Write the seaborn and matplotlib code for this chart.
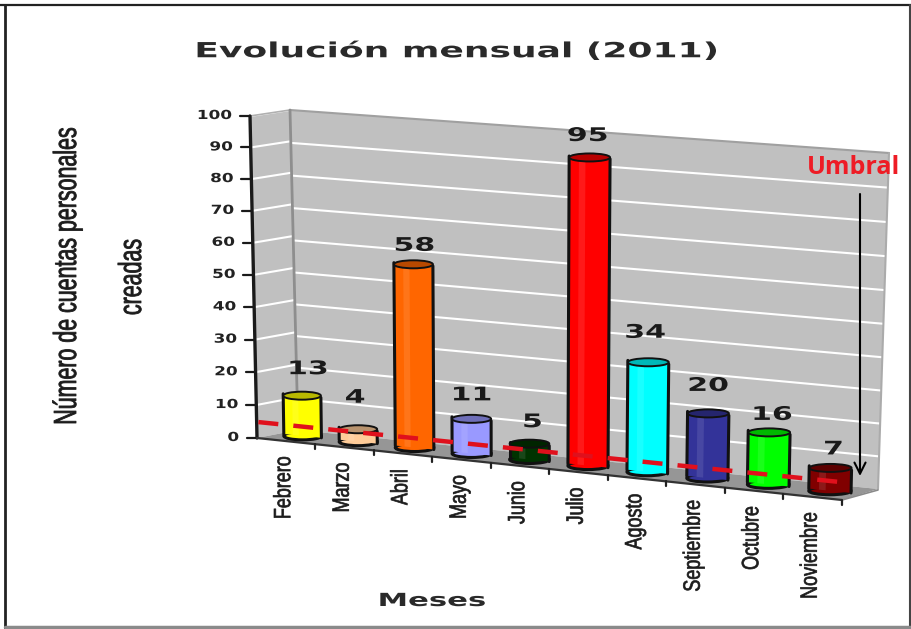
import numpy as np
import matplotlib
matplotlib.use("Agg")
import matplotlib.pyplot as plt
import seaborn as sns
from matplotlib.patches import Ellipse, Polygon, Rectangle
from matplotlib.patheffects import AbstractPathEffect
from matplotlib.transforms import Affine2D, Transform

# Chart data
months = ["Febrero", "Marzo", "Abril", "Mayo", "Junio", "Julio",
          "Agosto", "Septiembre", "Octubre", "Noviembre"]
accounts = [13, 4, 58, 11, 5, 95, 34, 20, 16, 7]
bar_colors = ["#FFFF00", "#FFCC99", "#FF6600", "#9999FF", "#003300",
              "#FF0000", "#00FFFF", "#333399", "#00FF00", "#800000"]
y_ticks = [0, 10, 20, 30, 40, 50, 60, 70, 80, 90, 100]
threshold = 3

# Scene geometry of the pseudo-3D box, in pixels from the top-left corner
BAR_PLANE = [(275, 433), (861, 494), (869, 160), (270, 119)]
BACK_WALL = [(298, 430), (878, 489), (889, 153), (290, 110)]
SIDE_WALL = [(257, 438), (298, 430), (290, 110), (250, 116)]
FLOOR = [(257, 438), (298, 430), (878, 489), (842, 500)]
# Nudges for the value labels, relative to the top of each bar
label_nudge = [(6, -27), (-3, -32), (1, -19), (0, -24), (3, -22),
               (-2, -22), (-3, -30), (0, -28), (3, -18), (3, -19)]


def homography(src, dst):
    rows, rhs = [], []
    for (x, y), (u, v) in zip(src, dst):
        rows.append([x, y, 1, 0, 0, 0, -u * x, -u * y])
        rows.append([0, 0, 0, x, y, 1, -v * x, -v * y])
        rhs += [u, v]
    return np.append(np.linalg.solve(np.array(rows, float), np.array(rhs, float)), 1).reshape(3, 3)


class Projective(Transform):
    """Perspective mapping from a data rectangle onto a quadrilateral."""
    input_dims = output_dims = 2
    is_affine = False

    def __init__(self, x0, x1, y0, y1, quad):
        super().__init__()
        self.h = homography([(x0, y0), (x1, y0), (x1, y1), (x0, y1)], quad)

    def transform_non_affine(self, values):
        values = np.atleast_2d(values)
        p = np.c_[values, np.ones(len(values))] @ self.h.T
        return p[:, :2] / p[:, 2:]


class Stretch(AbstractPathEffect):
    """Scales glyph outlines about a fractional anchor of the text box,
    optionally thickening them with an outline of the same colour."""

    def __init__(self, sx=1.0, sy=1.0, anchor=(0.5, 0.5), embolden=0.0):
        super().__init__()
        self.sx, self.sy, self.anchor, self.embolden = sx, sy, anchor, embolden

    def draw_path(self, renderer, gc, tpath, affine, rgbFace=None):
        box = tpath.get_extents(affine)
        cx = box.x0 + box.width * self.anchor[0]
        cy = box.y0 + box.height * self.anchor[1]
        extra = Affine2D().translate(-cx, -cy).scale(self.sx, self.sy).translate(cx, cy)
        gc0 = renderer.new_gc()
        gc0.copy_properties(gc)
        if self.embolden:
            gc0.set_foreground(rgbFace)
            gc0.set_linewidth(self.embolden)
        renderer.draw_path(gc0, tpath, affine + extra, rgbFace)
        gc0.restore()


sns.set_style("white")
fig = plt.figure(figsize=(9.12, 6.29), dpi=100, facecolor="white")
ax = fig.add_axes([0, 0, 1, 1])

data = {"mes": months, "cuentas": accounts}
sns.barplot(data=data, x="mes", y="cuentas", hue="mes", palette=bar_colors, saturation=1,
            width=0.68, linewidth=0, legend=False, ax=ax, zorder=3)
ax.set_xlim(0, 912)
ax.set_ylim(629, 0)
ax.autoscale(False)
ax.set_axis_off()

plane = Projective(-0.5, 9.5, 0, 100, BAR_PLANE)
back = Projective(0, 1, 0, 100, BACK_WALL)
side = Projective(0, 1, 0, 100, SIDE_WALL)
front = Projective(0, 10, 0, 1, [(257, 438), (842, 500), (842, 400), (257, 338)])
to_plane = plane + ax.transData

# Walls and floor
ax.add_patch(Polygon(SIDE_WALL, fc="#C0C0C0", ec="none", zorder=1))
ax.add_patch(Polygon(BACK_WALL, fc="#C0C0C0", ec="none", zorder=1))
ax.add_patch(Polygon(FLOOR, fc="#969696", ec="none", zorder=1.2))

for v in y_ticks[1:]:
    ax.plot([0, 1], [v, v], color="white", lw=1.5, zorder=1.1, transform=side + ax.transData)
    ax.plot([0, 1], [v, v], color="white" if v < 100 else "#A0A0A0", lw=1.5, zorder=1.1,
            transform=back + ax.transData)
ax.plot([0, 1], [100, 100], color="#B0B0B0", lw=1.2, zorder=1.1, transform=side + ax.transData)
ax.plot([1, 1], [0, 100], color="#8E8E8E", lw=2, zorder=1.3, transform=side + ax.transData)
ax.plot([1, 1], [0, 100], color="#ABABAB", lw=1.5, zorder=1.3, transform=back + ax.transData)

# Value axis
ax.plot([0, 0], [0, 100], color="#1A1A1A", lw=2.4, zorder=2, transform=side + ax.transData)
for v in y_ticks:
    x, y = side.transform([[0, v]])[0]
    ax.plot([x - 10, x], [y, y], color="#1A1A1A", lw=1.6, zorder=2)
    ax.text(x - 18, y - 0.5, str(v), ha="right", va="center", fontsize=9, fontweight="bold",
            family="DejaVu Sans", color="#222222",
            path_effects=[Stretch(sx=1.35, anchor=(1, 0.5))])

# Category axis
narrow = ["Liberation Sans Narrow", "Liberation Sans"]
ax.plot([0, 10], [0, 0], color="#333333", lw=1.6, zorder=2, transform=front + ax.transData)
ax.plot([842, 878], [500, 490], color="#8A8A8A", lw=1.2, zorder=2)
for i, name in enumerate(months):
    x, y = front.transform([[i + 1, 0]])[0]
    ax.plot([x, x], [y, y + 5], color="#222222", lw=1.6, zorder=2)
    xc, yc = front.transform([[i + 0.5, 0]])[0]
    ax.text(xc - 2, yc + 15, name, rotation=90, ha="center", va="top", fontsize=17,
            family=narrow, color="#1C1C1C",
            path_effects=[Stretch(sy=0.76, anchor=(0.5, 1), embolden=0.5)])

# Cylinders: seaborn rectangles pushed through the perspective, with round caps
for i, (bar, color) in enumerate(zip(ax.patches, bar_colors)):
    bar.set_transform(to_plane)
    bar.set_zorder(3)
    x0, w, h = bar.get_x(), bar.get_width(), bar.get_height()
    rgb = np.array(matplotlib.colors.to_rgb(color))
    (lx, ly), (rx, ry) = plane.transform([[x0, 0], [x0 + w, 0]])
    (tlx, tly), (trx, try_) = plane.transform([[x0, h], [x0 + w, h]])
    ax.add_patch(Ellipse(((lx + rx) / 2, (ly + ry) / 2), rx - lx, 8, fc=color, ec="#111111",
                         lw=2.2, zorder=2.9))
    ax.add_patch(Rectangle((x0 + 0.24 * w, 0), 0.16 * w, h, fc="white", alpha=0.1, ec="none",
                           zorder=3.1, transform=to_plane))
    ax.plot([x0, x0], [0, h], color="#111111", lw=2.2, zorder=3.2, transform=to_plane)
    ax.plot([x0 + w, x0 + w], [0, h], color="#111111", lw=2.2, zorder=3.2, transform=to_plane)
    ax.add_patch(Ellipse(((tlx + trx) / 2, (tly + try_) / 2), trx - tlx, 8, fc=rgb * 0.72,
                         ec="#111111", lw=1.4, zorder=3.3))
    dx, dy = label_nudge[i]
    ax.text((tlx + trx) / 2 + dx, (tly + try_) / 2 + dy, str(accounts[i]), ha="center",
            va="center", fontsize=13.5, fontweight="bold", family="DejaVu Sans",
            color="#1A1A1A", zorder=5, path_effects=[Stretch(sx=1.6)])

# Threshold line and its note
ax.plot([-0.8, 9.3], [threshold, threshold], color="#E0101C", lw=3.2, dashes=(4.5, 3.4),
        zorder=4, transform=to_plane)
ax.text(854, 167, "Umbral", ha="center", va="center", fontsize=18, fontweight="bold",
        family="Open Sans", color="#EE1C25", zorder=5)
ax.annotate("", xy=(860, 476), xytext=(860, 194), zorder=5,
            arrowprops=dict(arrowstyle="->", color="black", lw=1.5, mutation_scale=20,
                            shrinkA=0, shrinkB=0))

# Titles
ax.text(457, 51, "Evolución mensual (2011)", ha="center", va="center", fontsize=15,
        fontweight="bold", family="DejaVu Sans", color="#2A2A2A",
        path_effects=[Stretch(sx=1.73)])
ax.text(432, 601, "Meses", ha="center", va="center", fontsize=13, fontweight="bold",
        family="DejaVu Sans", color="#2A2A2A", path_effects=[Stretch(sx=1.7)])
ax.text(68, 276, "Número de cuentas personales", rotation=90, ha="center", va="center",
        fontsize=23, family=narrow, color="#1C1C1C",
        path_effects=[Stretch(sy=0.67, embolden=0.6)])
ax.text(133, 277, "creadas", rotation=90, ha="center", va="center", fontsize=23,
        family=narrow, color="#1C1C1C",
        path_effects=[Stretch(sy=0.67, embolden=0.6)])

# Picture frame
ax.plot([0, 912], [5, 5], color="#222222", lw=1.6, zorder=6)
ax.plot([5, 5], [5, 629], color="#222222", lw=2, zorder=6)
ax.plot([910, 910], [5, 627], color="#444444", lw=1.5, zorder=6)
ax.plot([5, 912], [627, 627], color="#8A8A8A", lw=2.5, zorder=6)

fig.savefig("out.png", dpi=100)
